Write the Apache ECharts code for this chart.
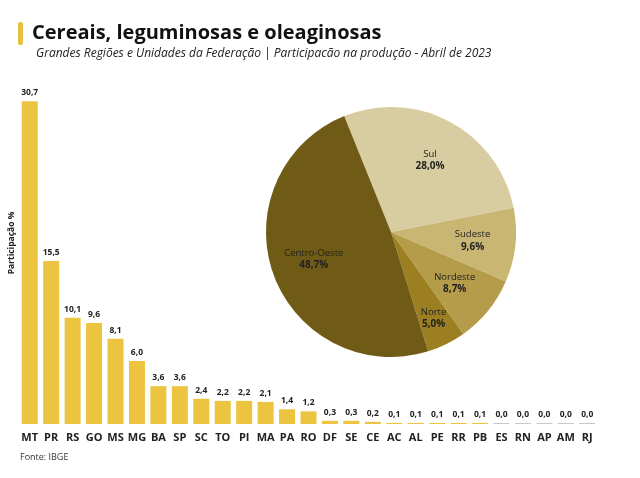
<!DOCTYPE html>
<html><head><meta charset="utf-8">
<script src="https://cdn.jsdelivr.net/npm/echarts@6/dist/echarts.min.js"></script>
<style>html,body{margin:0;padding:0;background:#fff}#c{width:640px;height:478px}</style>
</head><body><div id="c"></div>
<script>
const states = ['MT','PR','RS','GO','MS','MG','BA','SP','SC','TO','PI','MA','PA','RO','DF','SE','CE','AC','AL','PE','RR','PB','ES','RN','AP','AM','RJ'];
const stateValues = [30.7,15.5,10.1,9.6,8.1,6.0,3.6,3.6,2.4,2.2,2.2,2.1,1.4,1.2,0.3,0.3,0.2,0.1,0.1,0.1,0.1,0.1,0.0,0.0,0.0,0.0,0.0];
const regions = ['Sul','Sudeste','Nordeste','Norte','Centro-Oeste'];
const regionValues = [28.0,9.6,8.7,5.0,48.7];
const regionColors = ['#d8cda0','#cab673','#b59c4a','#9c7f20','#6f5b16'];
const fmt = v => v.toFixed(1).replace('.', ',');
const chart = echarts.init(document.getElementById('c'));
const F = '"Open Sans", "Noto Sans", sans-serif';
const pieCommon = {type:'pie', center:[391,232], startAngle:112, clockwise:true, avoidLabelOverlap:false, emphasis:{disabled:true}, labelLine:{show:false}};
const labelStyle = {show:true, position:'inner', color:'#222', fontSize:9.5, lineHeight:12,
  formatter:p=>p.name+'\n{b|'+fmt(p.value)+'%}', rich:{b:{fontWeight:'bold', fontSize:10, color:'#222'}}};
const overlay = (radius, pick) => Object.assign({}, pieCommon, {radius:radius, silent:true, z:3,
  data:regions.map((n,i)=>({name:n, value:regionValues[i], itemStyle:{color:'rgba(0,0,0,0)'}, label:{show:pick(n)}})),
  label:labelStyle});
chart.setOption({
  animation:false,
  textStyle:{fontFamily:F},
  graphic:[
    {type:'rect', shape:{x:18,y:22,width:5,height:23,r:2}, style:{fill:'#e8c23e'}},
    {type:'text', left:32, top:23, style:{text:'Cereais, leguminosas e oleaginosas', font:'bold 20px '+F, fill:'#111'}},
    {type:'text', left:36, top:48, style:{text:'Grandes Regiões e Unidades da Federação | Participacão na produção - Abril de 2023', font:'italic 12px '+F, fill:'#222'}},
    {type:'text', left:20, top:453, style:{text:'Fonte: IBGE', font:'9px '+F, fill:'#333'}},
    {type:'text', x:12, y:243, rotation:Math.PI/2, style:{text:'Participação %', font:'bold 8.5px '+F, fill:'#222', align:'center', verticalAlign:'middle'}}
  ],
  grid:{left:19, right:42, top:98, bottom:54},
  xAxis:{type:'category', data:states, axisLine:{show:false}, axisTick:{show:false},
    axisLabel:{interval:0, fontWeight:'bold', fontSize:11, color:'#222', margin:8}},
  yAxis:{type:'value', min:0, max:31, splitLine:{show:false}, axisLabel:{show:false}, axisLine:{show:false}, axisTick:{show:false}},
  series:[
    {type:'bar', data:stateValues, barWidth:16, barMinHeight:1,
      itemStyle:{color:p=>p.value===0?'#c8c8c8':'#ecc440'},
      label:{show:true, position:'top', distance:4, fontSize:8.5, fontWeight:'bold', color:'#222', formatter:p=>fmt(p.value)}},
    Object.assign({}, pieCommon, {radius:[0,125],
      data:regions.map((n,i)=>({name:n, value:regionValues[i], itemStyle:{color:regionColors[i]}})),
      label:{show:false}}),
    overlay([34,124], n=>n!=='Norte'),
    overlay([62,124], n=>n==='Norte')
  ]
});
</script></body></html>
